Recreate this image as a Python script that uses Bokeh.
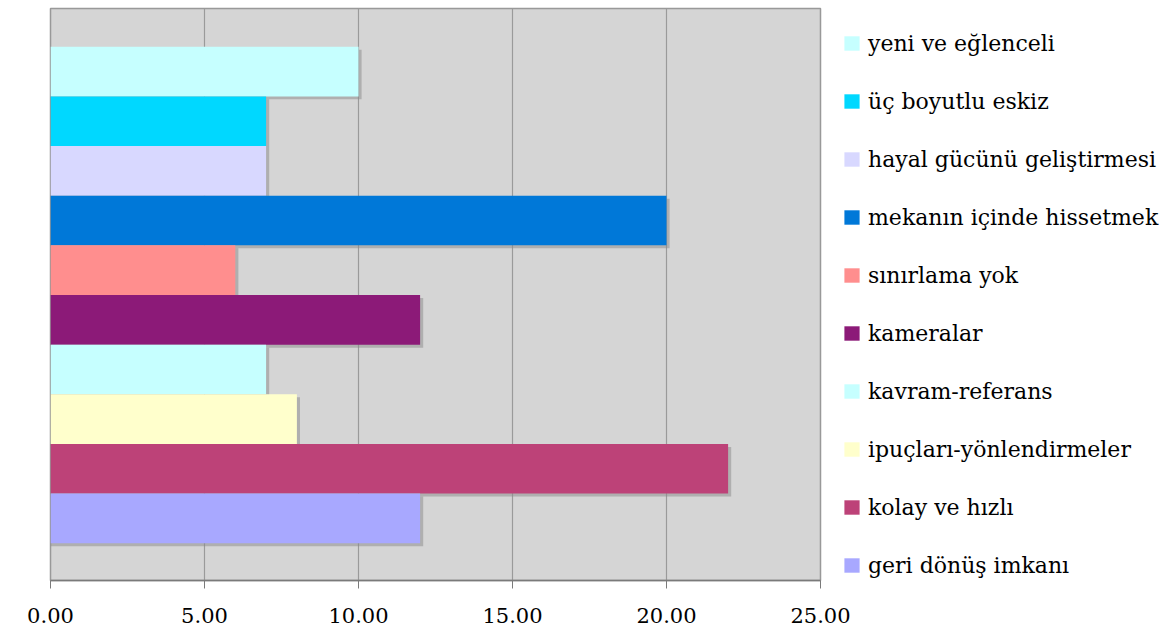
from bokeh.plotting import figure
from bokeh.models import ColumnDataSource, Range1d, FixedTicker, NumeralTickFormatter, Legend, LegendItem
from bokeh.embed import file_html
from bokeh.resources import INLINE

# Categories listed from the top bar downwards
labels = [
    "yeni ve eğlenceli",
    "üç boyutlu eskiz",
    "hayal gücünü geliştirmesi",
    "mekanın içinde hissetmek",
    "sınırlama yok",
    "kameralar",
    "kavram-referans",
    "ipuçları-yönlendirmeler",
    "kolay ve hızlı",
    "geri dönüş imkanı",
]
values = [10, 7, 7, 20, 6, 12, 7, 8, 22, 12]
colors = [
    "#c6ffff", "#00d8ff", "#d8d8ff", "#0078d8", "#ff8e8e",
    "#8c1a78", "#c6ffff", "#ffffcc", "#bd4278", "#a8a8ff",
]
x_ticks = [0, 5, 10, 15, 20, 25]

SERIF = "DejaVu Serif"

n = len(labels)
ypos = [n - 1 - i + 0.5 for i in range(n)]

src = ColumnDataSource(dict(
    y=ypos,
    v=values,
    label=labels,
    color=colors,
    sy=[y - 0.06 for y in ypos],
    sv=[v + 0.1 for v in values],
))

p = figure(
    frame_width=770, frame_height=572,
    x_range=Range1d(0, 25), y_range=Range1d(-0.75, n + 0.77),
    output_backend="svg", toolbar_location=None,
    min_border_left=50, min_border_top=8, min_border_bottom=56, min_border_right=0,
    background_fill_color="#d5d5d5", border_fill_color="white",
    outline_line_color="#999999", outline_line_width=1.5,
)

# soft drop shadow behind each bar
p.hbar(y="sy", left=0, right="sv", height=1.0, source=src,
       fill_color="#8a8a8a", fill_alpha=0.5, line_color=None)
bars = p.hbar(y="y", left=0, right="v", height=1.0, source=src,
              fill_color="color", line_color=None)

p.yaxis.visible = False
p.ygrid.grid_line_color = None

p.xgrid.ticker = FixedTicker(ticks=x_ticks)
p.xgrid.grid_line_color = "#9a9a9a"
p.xgrid.grid_line_width = 1.2

ax = p.xaxis[0]
ax.ticker = FixedTicker(ticks=x_ticks)
ax.formatter = NumeralTickFormatter(format="0.00")
ax.axis_line_color = "#7a7a7a"
ax.axis_line_width = 1.5
ax.major_tick_line_color = "#7a7a7a"
ax.major_tick_out = 8
ax.major_tick_in = 0
ax.minor_tick_line_color = None
ax.major_label_text_font = SERIF
ax.major_label_text_font_size = "21px"
ax.major_label_text_color = "black"
ax.major_label_standoff = 19

legend = Legend(
    items=[LegendItem(label=labels[i], renderers=[bars], index=i) for i in range(n)],
    location="top_left",
    label_text_font=SERIF,
    label_text_font_size="22px",
    label_text_color="black",
    glyph_width=19,
    glyph_height=18,
    label_height=26,
    label_standoff=7,
    spacing=32,
    padding=10,
    margin=12,
    border_line_alpha=0,
    background_fill_alpha=0,
)
p.add_layout(legend, "right")

open("out.html", "w").write(file_html(p, INLINE))
